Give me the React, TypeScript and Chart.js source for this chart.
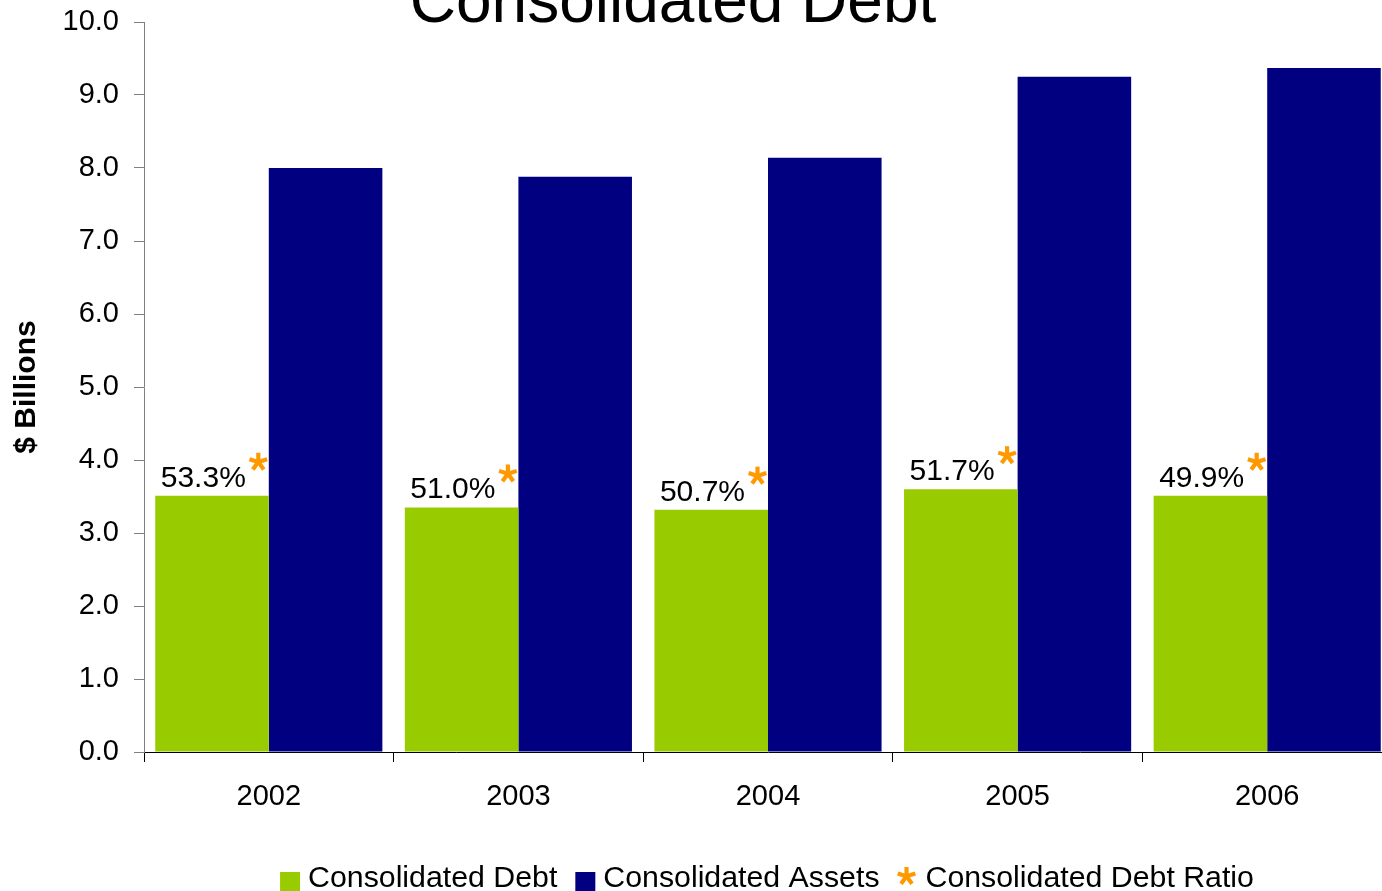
import React, { useEffect, useRef } from 'react';
import { Chart, registerables } from 'chart.js';

Chart.register(...registerables);

// ---- data ----
const years = ['2002', '2003', '2004', '2005', '2006'];
const consolidatedDebt = [3.51, 3.35, 3.32, 3.6, 3.51];
const consolidatedAssets = [8.0, 7.88, 8.14, 9.25, 9.37];
const debtRatio = [53.3, 51.0, 50.7, 51.7, 49.9];
const seriesLabels = ['Consolidated Debt', 'Consolidated Assets', 'Consolidated Debt Ratio'];
const titleText = 'Consolidated Debt';
const yAxisTitle = '$ Billions';

const GREEN = '#99CC00';
const NAVY = '#000080';
const ORANGE = '#FF9900';
const FONT = '"Liberation Sans", Arial, Helvetica, sans-serif';

function drawAsterisk(ctx: CanvasRenderingContext2D, cx: number, cy: number, r: number, color: string) {
  ctx.save();
  ctx.strokeStyle = color;
  ctx.lineWidth = r * 0.45;
  ctx.lineCap = 'butt';
  for (let i = 0; i < 5; i++) {
    const a = -Math.PI / 2 + (i * 2 * Math.PI) / 5;
    ctx.beginPath();
    ctx.moveTo(cx, cy);
    ctx.lineTo(cx + r * Math.cos(a), cy + r * Math.sin(a));
    ctx.stroke();
  }
  ctx.restore();
}

const overlayPlugin = {
  id: 'overlay',
  afterDatasetsDraw(chart: any) {
    const ctx: CanvasRenderingContext2D = chart.ctx;
    const meta = chart.getDatasetMeta(0);
    meta.data.forEach((el: any, i: number) => {
      const { x, y, width } = el.getProps(['x', 'y', 'width'], true);
      const right = x + width / 2;
      ctx.save();
      ctx.fillStyle = '#000';
      ctx.font = `30px ${FONT}`;
      ctx.textAlign = 'right';
      ctx.textBaseline = 'alphabetic';
      ctx.fillText(debtRatio[i].toFixed(1) + '%', right - 23, y - 9);
      ctx.restore();
      drawAsterisk(ctx, right - 10.5, y - 33.7, 9.3, ORANGE);
    });
  },
  afterDraw(chart: any) {
    const ctx: CanvasRenderingContext2D = chart.ctx;
    const area = chart.chartArea;
    // title (partly above the top edge)
    ctx.save();
    ctx.fillStyle = '#000';
    ctx.font = `64px ${FONT}`;
    ctx.textAlign = 'center';
    ctx.textBaseline = 'alphabetic';
    ctx.fillText(titleText, 673, 22);
    ctx.restore();

    // legend
    ctx.save();
    ctx.font = `30.3px ${FONT}`;
    ctx.textBaseline = 'alphabetic';
    ctx.textAlign = 'left';
    const items = chart.data.datasets.map((ds: any) => ({
      label: ds.label,
      color: ds.type === 'line' ? ds.pointBackgroundColor : ds.backgroundColor,
      star: ds.type === 'line',
    }));
    const itemGap = 18;
    const widths = items.map((it: any) => (it.star ? 18 + 10 : 20 + 8) + ctx.measureText(it.label).width);
    const total = widths.reduce((a: number, b: number) => a + b, 0) + itemGap * (items.length - 1);
    let x = (area.left + area.right) / 2 - total / 2 - 1;
    const baseline = 887;
    items.forEach((it: any, i: number) => {
      if (it.star) {
        drawAsterisk(ctx, x + 9, 876.3, 9.3, it.color);
        ctx.fillStyle = '#000';
        ctx.fillText(it.label, x + 28, baseline);
      } else {
        ctx.fillStyle = it.color;
        ctx.fillRect(x, 872, 20, 20);
        ctx.fillStyle = '#000';
        ctx.fillText(it.label, x + 28, baseline);
      }
      x += widths[i] + itemGap;
    });
    ctx.restore();
  },
};

export default function App() {
  const ref = useRef<HTMLCanvasElement | null>(null);
  useEffect(() => {
    if (!ref.current) return;
    Chart.defaults.font.family = FONT;
    const chart = new Chart(ref.current, {
      type: 'bar',
      data: {
        labels: years,
        datasets: [
          {
            type: 'bar',
            label: seriesLabels[0],
            data: consolidatedDebt,
            backgroundColor: GREEN,
            borderWidth: 0,
            categoryPercentage: 0.91,
            barPercentage: 1.0,
          },
          {
            type: 'bar',
            label: seriesLabels[1],
            data: consolidatedAssets,
            backgroundColor: NAVY,
            borderWidth: 0,
            categoryPercentage: 0.91,
            barPercentage: 1.0,
          },
          {
            type: 'line',
            label: seriesLabels[2],
            data: debtRatio,
            yAxisID: 'ratio',
            showLine: false,
            pointRadius: 0,
            pointHoverRadius: 0,
            pointBackgroundColor: ORANGE,
            borderColor: ORANGE,
            backgroundColor: ORANGE,
          },
        ] as any,
      },
      options: {
        animation: false,
        responsive: false,
        events: [],
        layout: { padding: { top: 22, left: 0, right: 0, bottom: 0 } },
        plugins: {
          legend: { display: false },
          title: { display: false },
          tooltip: { enabled: false },
        },
        scales: {
          x: {
            offset: true,
            grid: {
              display: true,
              offset: true,
              drawOnChartArea: false,
              drawTicks: true,
              tickLength: 10,
              color: '#000',
            },
            border: { display: true, color: '#000', width: 1 },
            ticks: { color: '#000', font: { size: 29 }, padding: 18, maxRotation: 0 },
            afterFit: (scale: any) => {
              scale.height = 139;
              scale.paddingLeft = 0;
              scale.paddingRight = 0;
            },
          },
          y: {
            min: 0,
            max: 10,
            ticks: {
              stepSize: 1,
              color: '#000',
              font: { size: 29 },
              padding: 15,
              callback: (v: any) => Number(v).toFixed(1),
            },
            grid: { drawOnChartArea: false, drawTicks: true, tickLength: 10, color: '#808080' },
            border: { display: true, color: '#808080', width: 1 },
            title: {
              display: true,
              text: yAxisTitle,
              color: '#000',
              font: { size: 30, weight: 'bold' },
              padding: { top: 9, bottom: 0 },
            },
            afterFit: (scale: any) => {
              scale.width = 144;
              scale.paddingTop = 0;
              scale.paddingBottom = 0;
            },
          },
          ratio: {
            display: false,
            min: 0,
            max: 100,
          },
        },
      } as any,
      plugins: [overlayPlugin],
    });
    return () => chart.destroy();
  }, []);

  return (
    <div
      style={{
        position: 'fixed',
        left: 0,
        top: 0,
        width: 1382,
        height: 891,
        overflow: 'hidden',
        background: '#fff',
      }}
    >
      <canvas ref={ref} width={1392} height={891} style={{ display: 'block', width: 1392, height: 891 }} />
    </div>
  );
}
